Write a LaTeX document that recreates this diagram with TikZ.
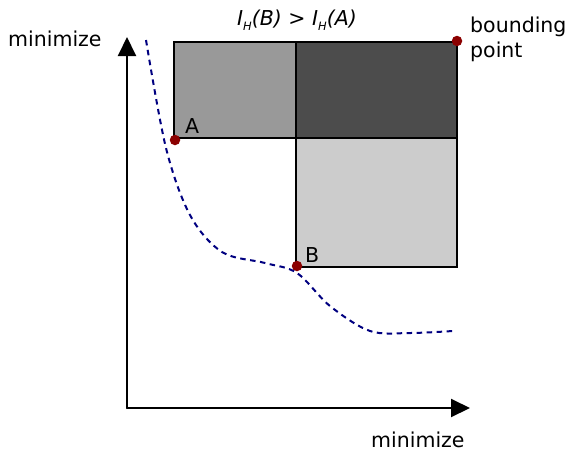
\documentclass[tikz,border=0pt]{standalone}
\usepackage{fontspec}
\setmainfont{DejaVu Sans}
\usetikzlibrary{arrows.meta}
\usepackage{xcolor}
\definecolor{ptred}{HTML}{8B0000}
\definecolor{frontblue}{HTML}{000080}
\newcommand{\hsub}{\raisebox{-5pt}{\fontsize{11.5}{12}\selectfont H}}

\begin{document}
\begin{tikzpicture}[x=1pt,y=-1pt,>={Triangle[length=19pt,width=18pt]},
  font=\fontsize{20.5}{25}\selectfont,line cap=round,
  lbl/.style={inner sep=0pt,anchor=base west},
  pt/.style={circle,fill=ptred,inner sep=0pt,minimum size=10.5pt},
  box/.style={draw=black,line width=1.4pt}]
\useasboundingbox (0,0) rectangle (567,456);
% dominated regions
\filldraw[box,fill=black!40] (174,42) rectangle (296,138);
\filldraw[box,fill=black!70] (296,42) rectangle (457,138);
\filldraw[box,fill=black!20] (296,138) rectangle (457,267);
% axes
\coordinate (orig) at (127,408);
\coordinate (ytip) at (127,37);
\coordinate (xtip) at (470,408);
\draw[->,line width=2pt] (orig) -- (ytip);
\draw[->,line width=2pt] (orig) -- (xtip);
% front
\draw[frontblue,line width=2pt,line cap=butt,dash pattern=on 5.5pt off 4.5pt] plot[smooth,tension=0.55] coordinates
  {(146,40) (166,148) (190,215) (222,252) (265,263) (297,273)
   (330,306) (370,331) (410,333) (453,331)};
% points
\node[pt] (A) at (175,140) {};
\node[pt] (B) at (297,266) {};
\node[pt] (bp) at (457,41) {};
\node[lbl] (Alab) at (185,133) {A};
\node[lbl] (Blab) at (305,262) {B};
\node[lbl,align=left] (bplab) at (470,57) {bounding\\point};
\node[lbl] (ylab) at (8,46) {minimize};
\node[lbl] (xlab) at (371,447) {minimize};
\node[inner sep=0pt,anchor=base] (title) at (297,25) {\itshape I\hsub(B) > I\hsub(A)};
\end{tikzpicture}
\end{document}
